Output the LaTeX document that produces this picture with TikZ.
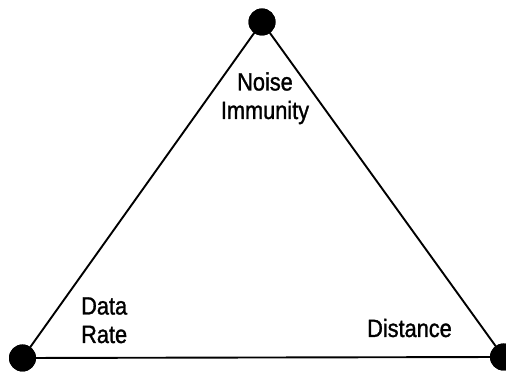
\documentclass[tikz,border=0pt]{standalone}
\usepackage{fontspec}
\setmainfont[FakeStretch=0.87,FakeBold=1.2]{Liberation Sans}
\begin{document}
\begin{tikzpicture}[x=1pt,y=1pt,
  vert/.style={circle,fill=black,inner sep=0pt,minimum size=27pt},
  lbl/.style={inner sep=0pt,font=\fontsize{25}{28.5}\selectfont,align=center},
  edge/.style={line width=1.9pt}]
\useasboundingbox (0,0) rectangle (506,377);
\node[vert] (top) at (262,355) {};
\node[vert] (bl) at (22.5,19) {};
\node[vert] (br) at (503.5,20) {};
\draw[edge] (top.center) -- (bl.center) -- (br.center) -- cycle;
\node[vert] at (top) {};
\node[vert] at (bl) {};
\node[vert] at (br) {};
\node[lbl,anchor=base] (noise) at (265,258) {Noise\\Immunity};
\node[lbl,anchor=base west,align=left] (data) at (81,34) {Data\\Rate};
\node[lbl,anchor=base east] (dist) at (452,40) {Distance};
\end{tikzpicture}
\end{document}
